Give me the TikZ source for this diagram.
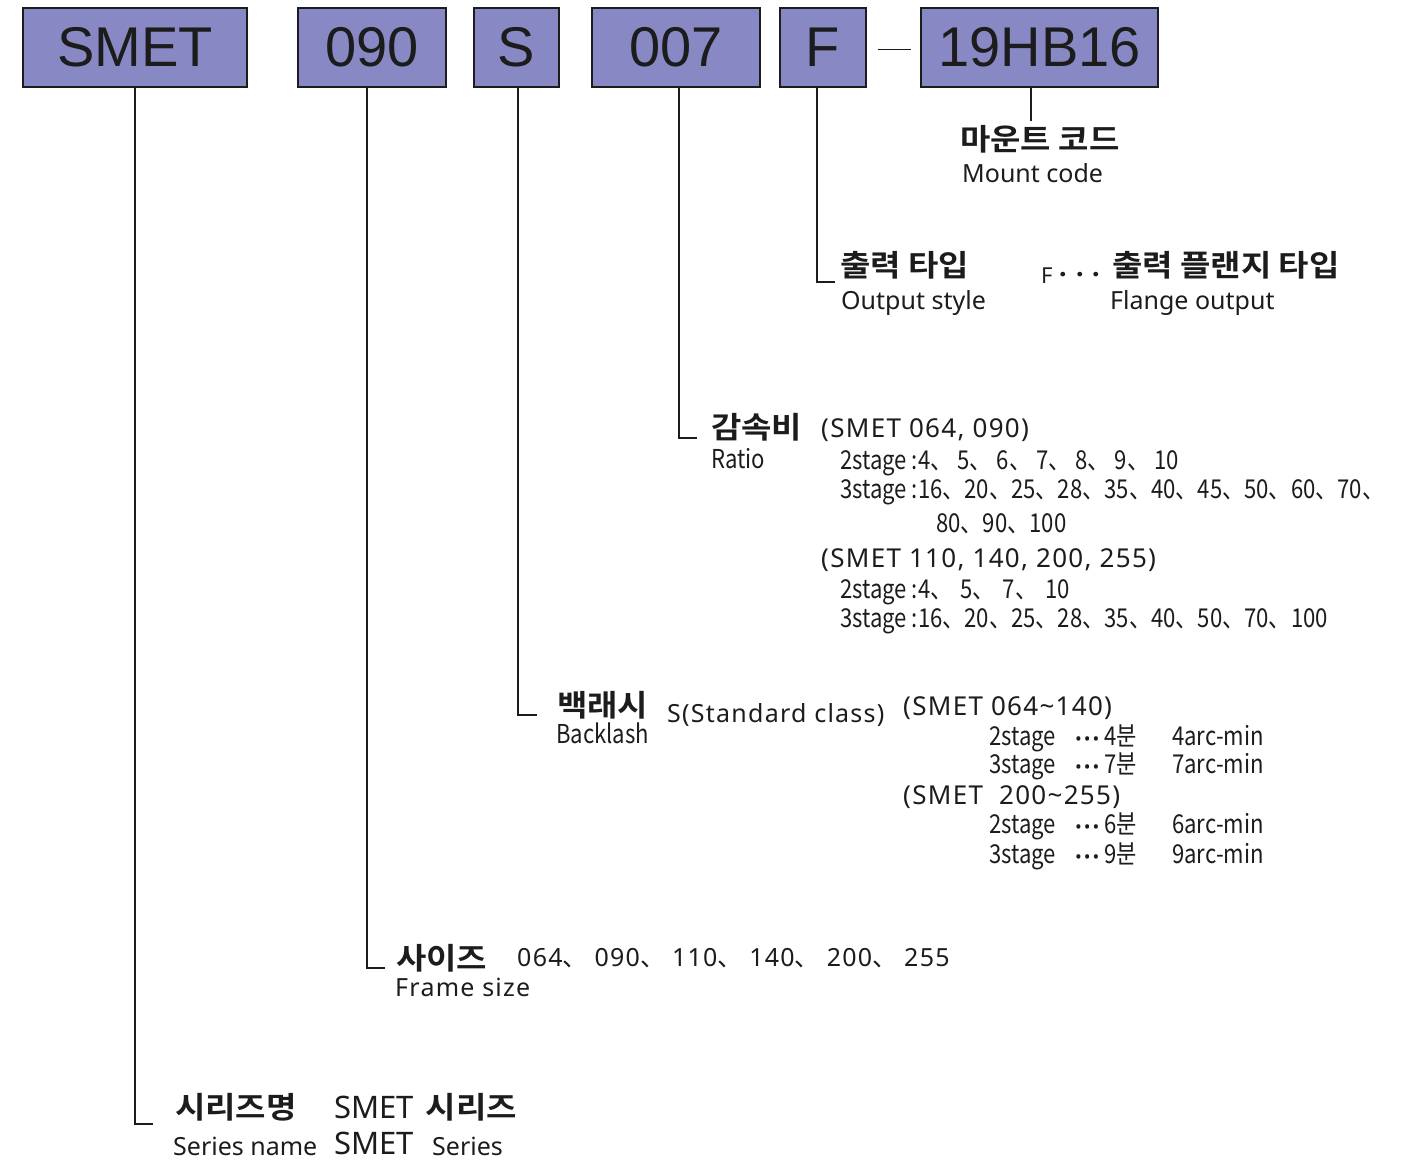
\documentclass[tikz,border=0pt]{standalone}
\usepackage{fontspec}
\newfontfamily\kr{Noto Sans CJK KR}
\newfontfamily\krb{Noto Sans CJK KR Bold}[FakeStretch=1.1]
\newfontfamily\krc{Noto Sans CJK KR}[FakeStretch=0.85]
\newfontfamily\ns{Noto Sans}
\newfontfamily\nsl{Noto Sans}[LetterSpace=5]
\newfontfamily\bx{Liberation Sans}
\definecolor{boxblue}{RGB}{136,137,196}
\definecolor{ink}{RGB}{28,28,28}
\newcommand\kc[1]{、\hspace{#1}}
\newcommand\tdots{{\ns\fontsize{18}{18}\selectfont •\hspace{2pt}•\hspace{2pt}•}\hspace{5pt}}
\tikzset{
  codebox/.style={draw=ink, line width=2pt, fill=boxblue, minimum height=79pt, inner sep=0pt, text=ink,
    font=\bx\fontsize{56}{56}\selectfont},
  lbl/.style={anchor=west, inner sep=0pt, text=ink, text depth=0pt},
  ko/.style={lbl, text height=22pt, font=\krb\fontsize{30}{30}\selectfont},
  en/.style={lbl, text height=18pt, font=\ns\fontsize{25}{25}\selectfont},
  enl/.style={lbl, text height=18pt, font=\nsl\fontsize{26}{26}\selectfont},
  cn/.style={lbl, text height=17pt, font=\krc\fontsize{26}{26}\selectfont},
  conn/.style={draw=ink, line width=1.5pt}
}
\begin{document}
\begin{tikzpicture}[x=1pt,y=-1pt]
\useasboundingbox (0,0) rectangle (1402,1161);
% code boxes
\node[codebox, minimum width=224pt] (bSMET) at (135,47.5) {SMET};
\node[codebox, minimum width=148pt] (b090) at (372,47.5) {090};
\node[codebox, minimum width=85pt] (bS) at (516.5,47.5) {S};
\node[codebox, minimum width=168pt] (b007) at (676,47.5) {007};
\node[codebox, minimum width=86pt] (bF) at (823,47.5) {F};
\node[codebox, minimum width=237pt] (bHB) at (1039.5,47.5) {19HB16};
\draw[conn] ([xshift=11pt,yshift=-2pt]bF.east) -- ([xshift=-9pt,yshift=-2pt]bHB.west);

% mount code
\node[ko] (tMount) at (960,140) {마운트 코드};
\node[en] (tMountE) at (962,174) {Mount code};
\draw[conn] ([xshift=-8.5pt]bHB.south) -- ([xshift=-8.5pt]bHB.south |- 0,121);

% output style
\coordinate (eF) at (835,282);
\draw[conn] ([xshift=-6pt]bF.south) |- (eF);
\node[ko] (tOut) at (840,265) {출력 타입};
\node[en] (tOutE) at (841,300) {Output style};
\node[lbl, text height=15pt, font=\ns\fontsize{22}{22}\selectfont] (tFdots) at (1041,276)
  {F\hspace{3pt}{\krb\fontsize{24}{24}\selectfont ·\hspace{1pt}·\hspace{1pt}·}};
\node[ko] (tFlange) at (1112,265) {출력 플랜지 타입};
\node[en] (tFlangeE) at (1110,300) {Flange output};

% ratio
\coordinate (e007) at (697,438);
\draw[conn] ([xshift=3pt]b007.south) |- (e007);
\node[ko] (tRatio) at (711,427) {감속비};
\node[cn] (tRatioE) at (711,460) {Ratio};
\node[enl] (r1) at (821,428) {(SMET 064, 090)};
\node[cn] (r2) at (840,461) {2stage :4\kc{5pt}5\kc{5pt}6\kc{5pt}7\kc{5pt}8\kc{5pt}9\kc{5pt}10};
\node[cn] (r3) at (840,490) {3stage :16、20、25、28、35、40、45、50、60、70、};
\node[cn] (r4) at (936,524) {80、90、100};
\node[enl] (r5) at (821,558) {(SMET 110, 140, 200, 255)};
\node[cn] (r6) at (840,590) {2stage :4\kc{8pt}5\kc{8pt}7\kc{8pt}10};
\node[cn] (r7) at (840,619) {3stage :16、20、25、28、35、40、50、70、100};

% backlash
\coordinate (eS) at (537,715);
\draw[conn] ([xshift=1.5pt]bS.south) |- (eS);
\node[ko] (tBack) at (557,705) {백래시};
\node[cn] (tBackE) at (556,735) {Backlash};
\node[enl, font=\nsl\fontsize{25}{25}\selectfont] (tStd) at (667,713) {S(Standard class)};
\node[enl] (s1) at (903,706) {(SMET 064\textasciitilde140)};
\node[cn] (s2a) at (989,737) {2stage};
\node[cn] (s2b) at (1075,737) {\tdots 4분};
\node[cn] (s2c) at (1172,737) {4arc-min};
\node[cn] (s3a) at (989,765) {3stage};
\node[cn] (s3b) at (1075,765) {\tdots 7분};
\node[cn] (s3c) at (1172,765) {7arc-min};
\node[enl] (s4) at (903,795) {(SMET\ \ 200\textasciitilde255)};
\node[cn] (s5a) at (989,825) {2stage};
\node[cn] (s5b) at (1075,825) {\tdots 6분};
\node[cn] (s5c) at (1172,825) {6arc-min};
\node[cn] (s6a) at (989,855) {3stage};
\node[cn] (s6b) at (1075,855) {\tdots 9분};
\node[cn] (s6c) at (1172,855) {9arc-min};

% size
\coordinate (e090) at (385,968);
\draw[conn] ([xshift=-5pt]b090.south) |- (e090);
\node[ko] (tSize) at (396,958) {사이즈};
\node[enl, font=\nsl\fontsize{25}{25}\selectfont] (tSizeV) at (517,957) {064{\kr\kc{7pt}}090{\kr\kc{7pt}}110{\kr\kc{7pt}}140{\kr\kc{7pt}}200{\kr\kc{7pt}}255};
\node[enl, font=\nsl\fontsize{25}{25}\selectfont] (tSizeE) at (395,987) {Frame size};

% series
\coordinate (eSMET) at (153,1124);
\draw[conn] (bSMET.south) |- (eSMET);
\node[ko] (tSer) at (175,1107) {시리즈명};
\node[ko] (tSerV) at (334,1107) {{\ns\fontsize{31}{31}\selectfont SMET}\hspace{12pt}시리즈};
\node[en] (tSerE) at (173,1146) {Series name};
\node[lbl, text height=22pt, font=\ns\fontsize{31}{31}\selectfont] (tSerS) at (334,1143) {SMET};
\node[en] (tSerS2) at (432,1146) {Series};
\end{tikzpicture}
\end{document}
